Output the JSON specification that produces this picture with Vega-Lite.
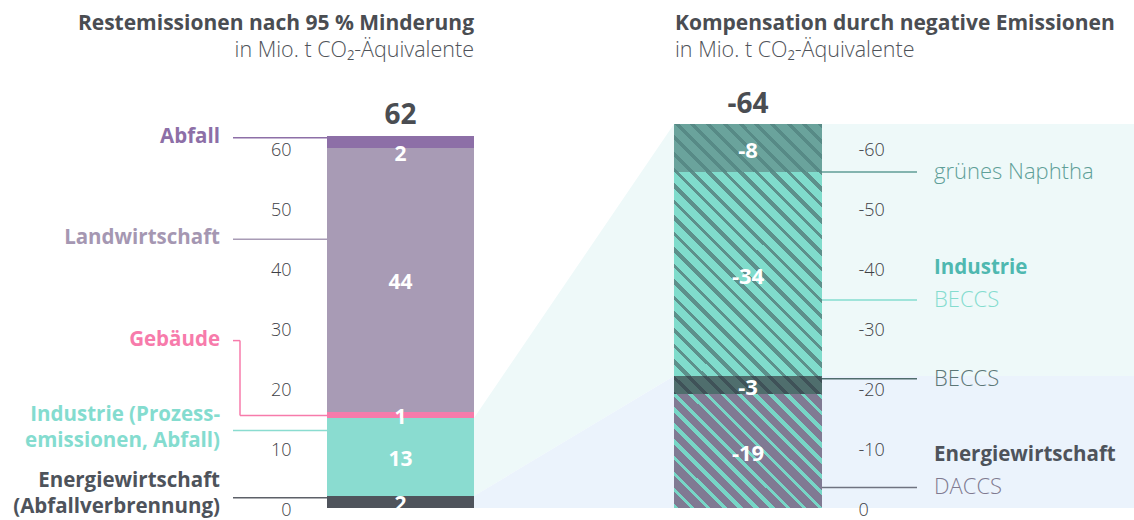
{
  "$schema": "https://vega.github.io/schema/vega-lite/v6.json",
  "width": 1134,
  "height": 520,
  "autosize": "none",
  "padding": 0,
  "background": "#ffffff",
  "config": {
    "view": {"stroke": null},
    "font": "Open Sans",
    "axisX": {"disable": true},
    "locale": {"number": {"decimal": ",", "thousands": ".", "grouping": [3], "currency": ["", " €"], "minus": "-"}}
  },
  "datasets": {
    "rest": [
      {"Sektor": "Energiewirtschaft", "rang": 1, "value": 2},
      {"Sektor": "Industrie", "rang": 2, "value": 13},
      {"Sektor": "Gebäude", "rang": 3, "value": 1},
      {"Sektor": "Landwirtschaft", "rang": 4, "value": 44},
      {"Sektor": "Abfall", "rang": 5, "value": 2}
    ],
    "komp": [
      {"Sektor": "Energiewirtschaft", "Technik": "DACCS", "rang": 1, "value": -19},
      {"Sektor": "Energiewirtschaft", "Technik": "BECCS", "rang": 2, "value": -3},
      {"Sektor": "Industrie", "Technik": "BECCS", "rang": 3, "value": -34},
      {"Sektor": "Industrie", "Technik": "grünes Naphtha", "rang": 4, "value": -8}
    ],
    "trichter": [
      {"Sektor": "Industrie", "x": 474, "unten": 2, "oben": 15},
      {"Sektor": "Industrie", "x": 674, "unten": 22, "oben": 64},
      {"Sektor": "Industrie", "x": 1134, "unten": 22, "oben": 64},
      {"Sektor": "Energiewirtschaft", "x": 474, "unten": 0, "oben": 2},
      {"Sektor": "Energiewirtschaft", "x": 674, "unten": 0, "oben": 22},
      {"Sektor": "Energiewirtschaft", "x": 1134, "unten": 0, "oben": 22}
    ]
  },
  "layer": [
    {
      "layer": [
        {
          "data": {"name": "trichter"},
          "transform": [{"filter": "datum.Sektor === 'Industrie'"}],
          "mark": {"type": "area", "color": "#eef9f9"},
          "encoding": {
            "x": {"field": "x", "type": "quantitative", "scale": {"domain": [0, 1134], "nice": false, "zero": false}},
            "y": {"field": "oben", "type": "quantitative", "scale": {"domain": [-2, 84.6667], "nice": false, "zero": false},
              "axis": {"orient": "left", "offset": -291, "values": [0, 10, 20, 30, 40, 50, 60], "ticks": false, "domain": false, "grid": false, "labelPadding": 0, "labelFontSize": 18, "labelFontWeight": 300, "labelColor": "#3d4045", "labelOffset": 2, "labelOverlap": false, "zindex": 1, "title": null}},
            "y2": {"field": "unten"}
          }
        },
        {
          "data": {"name": "trichter"},
          "transform": [{"filter": "datum.Sektor === 'Energiewirtschaft'"}],
          "mark": {"type": "area", "color": "#ebf3fc"},
          "encoding": {
            "x": {"field": "x", "type": "quantitative"},
            "y": {"field": "oben", "type": "quantitative"},
            "y2": {"field": "unten"}
          }
        },
        {
          "data": {"name": "rest"},
          "transform": [{"stack": "value", "groupby": [], "sort": [{"field": "rang"}], "as": ["v0", "v1"]}],
          "mark": {"type": "rect"},
          "encoding": {
            "x": {"datum": 327, "type": "quantitative"},
            "x2": {"datum": 474},
            "y": {"field": "v0", "type": "quantitative"},
            "y2": {"field": "v1"},
            "color": {"field": "Sektor", "type": "nominal", "legend": null,
              "scale": {"domain": ["Energiewirtschaft", "Industrie", "Gebäude", "Landwirtschaft", "Abfall"], "range": ["#4f545c", "#8adcd0", "#f77bab", "#a89bb5", "#8d6fa7"]}}
          }
        },
        {
          "data": {"name": "rest"},
          "transform": [
            {"stack": "value", "groupby": [], "sort": [{"field": "rang"}], "as": ["v0", "v1"]},
            {"filter": "datum.Sektor !== 'Abfall'"},
            {"fold": ["v0", "v1"], "as": ["grenze", "stelle"]},
            {"aggregate": [{"op": "mean", "field": "stelle", "as": "mitte"}, {"op": "max", "field": "value", "as": "wert"}], "groupby": ["Sektor"]}
          ],
          "mark": {"type": "text", "color": "#ffffff", "fontWeight": "bold", "fontSize": 21, "baseline": "middle", "dy": 3},
          "encoding": {
            "x": {"datum": 400.5, "type": "quantitative"},
            "y": {"field": "mitte", "type": "quantitative"},
            "text": {"field": "wert", "type": "quantitative", "format": "d"}
          }
        },
        {
          "data": {"name": "rest"},
          "transform": [
            {"stack": "value", "groupby": [], "sort": [{"field": "rang"}], "as": ["v0", "v1"]},
            {"filter": "datum.Sektor === 'Abfall'"}
          ],
          "mark": {"type": "text", "color": "#ffffff", "fontWeight": "bold", "fontSize": 21, "baseline": "middle", "dy": 7},
          "encoding": {
            "x": {"datum": 400.5, "type": "quantitative"},
            "y": {"field": "v0", "type": "quantitative"},
            "text": {"field": "value", "type": "quantitative", "format": "d"}
          }
        },
        {
          "data": {"name": "rest"},
          "transform": [{"aggregate": [{"op": "sum", "field": "value", "as": "summe"}]}],
          "mark": {"type": "text", "color": "#4a4d52", "fontWeight": "bold", "fontSize": 28, "baseline": "alphabetic", "dy": -12},
          "encoding": {
            "x": {"datum": 400.5, "type": "quantitative"},
            "y": {"field": "summe", "type": "quantitative"},
            "text": {"field": "summe", "type": "quantitative", "format": "d"}
          }
        },
        {
          "data": {"values": [{}]},
          "layer": [
            {"mark": {"type": "rule", "color": "#8d6fa7", "strokeWidth": 1.5}, "encoding": {"x": {"datum": 233, "type": "quantitative"}, "x2": {"datum": 327}, "y": {"datum": 61.7, "type": "quantitative"}}},
            {"mark": {"type": "rule", "color": "#a89bb5", "strokeWidth": 1.5}, "encoding": {"x": {"datum": 233, "type": "quantitative"}, "x2": {"datum": 327}, "y": {"datum": 44.8, "type": "quantitative"}}},
            {"mark": {"type": "rule", "color": "#f77bab", "strokeWidth": 1.5}, "encoding": {"x": {"datum": 233, "type": "quantitative"}, "x2": {"datum": 240}, "y": {"datum": 27.9, "type": "quantitative"}}},
            {"mark": {"type": "rule", "color": "#f77bab", "strokeWidth": 1.5}, "encoding": {"x": {"datum": 240, "type": "quantitative"}, "y": {"datum": 27.9, "type": "quantitative"}, "y2": {"datum": 15.4}}},
            {"mark": {"type": "rule", "color": "#f77bab", "strokeWidth": 1.5}, "encoding": {"x": {"datum": 240, "type": "quantitative"}, "x2": {"datum": 327}, "y": {"datum": 15.4, "type": "quantitative"}}},
            {"mark": {"type": "rule", "color": "#8adcd0", "strokeWidth": 1.5}, "encoding": {"x": {"datum": 233, "type": "quantitative"}, "x2": {"datum": 327}, "y": {"datum": 12.9, "type": "quantitative"}}},
            {"mark": {"type": "rule", "color": "#5d6068", "strokeWidth": 1.5}, "encoding": {"x": {"datum": 233, "type": "quantitative"}, "x2": {"datum": 327}, "y": {"datum": 1.7, "type": "quantitative"}}},
            {"mark": {"type": "text", "text": "Abfall", "align": "right", "baseline": "middle", "fontWeight": "bold", "fontSize": 20.5, "color": "#8d6fa7"}, "encoding": {"x": {"datum": 220, "type": "quantitative"}, "y": {"datum": 61.8, "type": "quantitative"}}},
            {"mark": {"type": "text", "text": "Landwirtschaft", "align": "right", "baseline": "middle", "fontWeight": "bold", "fontSize": 20.5, "color": "#a597b2"}, "encoding": {"x": {"datum": 220, "type": "quantitative"}, "y": {"datum": 45, "type": "quantitative"}}},
            {"mark": {"type": "text", "text": "Gebäude", "align": "right", "baseline": "middle", "fontWeight": "bold", "fontSize": 20.5, "color": "#f77bab"}, "encoding": {"x": {"datum": 220, "type": "quantitative"}, "y": {"datum": 28, "type": "quantitative"}}},
            {"mark": {"type": "text", "text": ["Industrie (Prozess-", "emissionen, Abfall)"], "lineHeight": 26, "align": "right", "baseline": "middle", "fontWeight": "bold", "fontSize": 20.5, "color": "#84dccf"}, "encoding": {"x": {"datum": 220, "type": "quantitative"}, "y": {"datum": 15.5, "type": "quantitative"}}},
            {"mark": {"type": "text", "text": ["Energiewirtschaft", "(Abfallverbrennung)"], "lineHeight": 26, "align": "right", "baseline": "middle", "fontWeight": "bold", "fontSize": 20.5, "color": "#4e535b"}, "encoding": {"x": {"datum": 220, "type": "quantitative"}, "y": {"datum": 4.5, "type": "quantitative"}}},
            {"mark": {"type": "text", "text": "Restemissionen nach 95 % Minderung", "align": "right", "baseline": "middle", "fontWeight": "bold", "fontSize": 21, "color": "#4a4d52"}, "encoding": {"x": {"datum": 474, "type": "quantitative"}, "y": {"datum": 80.7, "type": "quantitative"}}},
            {"mark": {"type": "text", "text": "in Mio. t CO₂-Äquivalente", "align": "right", "baseline": "middle", "fontSize": 21.5, "fontWeight": 300, "color": "#4f5359"}, "encoding": {"x": {"datum": 474, "type": "quantitative"}, "y": {"datum": 76.2, "type": "quantitative"}}},
            {"mark": {"type": "text", "text": "Kompensation durch negative Emissionen", "align": "left", "baseline": "middle", "fontWeight": "bold", "fontSize": 21, "color": "#4a4d52"}, "encoding": {"x": {"datum": 675, "type": "quantitative"}, "y": {"datum": 80.7, "type": "quantitative"}}},
            {"mark": {"type": "text", "text": "in Mio. t CO₂-Äquivalente", "align": "left", "baseline": "middle", "fontSize": 21.5, "fontWeight": 300, "color": "#4f5359"}, "encoding": {"x": {"datum": 675, "type": "quantitative"}, "y": {"datum": 76.2, "type": "quantitative"}}}
          ]
        }
      ]
    },
    {
      "data": {"name": "komp"},
      "transform": [{"stack": "value", "groupby": [], "sort": [{"field": "rang"}], "as": ["v0", "v1"]}],
      "layer": [
        {
          "transform": [{"filter": "datum.rang === 1"}],
          "mark": {"type": "rect", "fill": {"gradient": "linear", "x1": 0, "y1": 1, "x2": 1.11106, "y2": 0.14418, "stops": [
            {"offset": 0, "color": "#77d6c6"}, {"offset": 0.01908, "color": "#77d6c6"}, {"offset": 0.01908, "color": "#807a93"}, {"offset": 0.06107, "color": "#807a93"},
            {"offset": 0.06107, "color": "#77d6c6"}, {"offset": 0.08015, "color": "#77d6c6"}, {"offset": 0.08015, "color": "#807a93"}, {"offset": 0.12214, "color": "#807a93"},
            {"offset": 0.12214, "color": "#77d6c6"}, {"offset": 0.14122, "color": "#77d6c6"}, {"offset": 0.14122, "color": "#807a93"}, {"offset": 0.18321, "color": "#807a93"},
            {"offset": 0.18321, "color": "#77d6c6"}, {"offset": 0.20229, "color": "#77d6c6"}, {"offset": 0.20229, "color": "#807a93"}, {"offset": 0.24427, "color": "#807a93"},
            {"offset": 0.24427, "color": "#77d6c6"}, {"offset": 0.26336, "color": "#77d6c6"}, {"offset": 0.26336, "color": "#807a93"}, {"offset": 0.30534, "color": "#807a93"},
            {"offset": 0.30534, "color": "#77d6c6"}, {"offset": 0.32443, "color": "#77d6c6"}, {"offset": 0.32443, "color": "#807a93"}, {"offset": 0.36641, "color": "#807a93"},
            {"offset": 0.36641, "color": "#77d6c6"}, {"offset": 0.3855, "color": "#77d6c6"}, {"offset": 0.3855, "color": "#807a93"}, {"offset": 0.42748, "color": "#807a93"},
            {"offset": 0.42748, "color": "#77d6c6"}, {"offset": 0.44656, "color": "#77d6c6"}, {"offset": 0.44656, "color": "#807a93"}, {"offset": 0.48855, "color": "#807a93"},
            {"offset": 0.48855, "color": "#77d6c6"}, {"offset": 0.50763, "color": "#77d6c6"}, {"offset": 0.50763, "color": "#807a93"}, {"offset": 0.54962, "color": "#807a93"},
            {"offset": 0.54962, "color": "#77d6c6"}, {"offset": 0.5687, "color": "#77d6c6"}, {"offset": 0.5687, "color": "#807a93"}, {"offset": 0.61069, "color": "#807a93"},
            {"offset": 0.61069, "color": "#77d6c6"}, {"offset": 0.62977, "color": "#77d6c6"}, {"offset": 0.62977, "color": "#807a93"}, {"offset": 0.67176, "color": "#807a93"},
            {"offset": 0.67176, "color": "#77d6c6"}, {"offset": 0.69084, "color": "#77d6c6"}, {"offset": 0.69084, "color": "#807a93"}, {"offset": 0.73282, "color": "#807a93"},
            {"offset": 0.73282, "color": "#77d6c6"}, {"offset": 0.75191, "color": "#77d6c6"}, {"offset": 0.75191, "color": "#807a93"}, {"offset": 0.79389, "color": "#807a93"},
            {"offset": 0.79389, "color": "#77d6c6"}, {"offset": 0.81298, "color": "#77d6c6"}, {"offset": 0.81298, "color": "#807a93"}, {"offset": 0.85496, "color": "#807a93"},
            {"offset": 0.85496, "color": "#77d6c6"}, {"offset": 0.87405, "color": "#77d6c6"}, {"offset": 0.87405, "color": "#807a93"}, {"offset": 0.91603, "color": "#807a93"},
            {"offset": 0.91603, "color": "#77d6c6"}, {"offset": 0.93511, "color": "#77d6c6"}, {"offset": 0.93511, "color": "#807a93"}, {"offset": 0.9771, "color": "#807a93"},
            {"offset": 0.9771, "color": "#77d6c6"}, {"offset": 0.99618, "color": "#77d6c6"}, {"offset": 0.99618, "color": "#807a93"}, {"offset": 1, "color": "#807a93"}
          ]}},
          "encoding": {
            "x": {"datum": 674, "type": "quantitative"},
            "x2": {"datum": 822},
            "y": {"field": "v0", "type": "quantitative", "scale": {"domain": [2, -84.6667], "nice": false, "zero": false},
              "axis": {"orient": "right", "offset": -276, "values": [0, -10, -20, -30, -40, -50, -60], "ticks": false, "domain": false, "grid": false, "labelPadding": 0, "labelAlign": "left", "labelFontSize": 18, "labelFontWeight": 300, "labelColor": "#3d4045", "labelOffset": 2, "labelOverlap": false, "zindex": 1, "title": null}},
            "y2": {"field": "v1"}
          }
        },
        {
          "transform": [{"filter": "datum.rang === 2"}],
          "mark": {"type": "rect", "fill": {"gradient": "linear", "x1": 0, "y1": 1, "x2": 1.10528, "y2": 0.86557, "stops": [
            {"offset": 0, "color": "#3f5258"}, {"offset": 0.01807, "color": "#3f5258"}, {"offset": 0.01807, "color": "#4f6e6d"}, {"offset": 0.08434, "color": "#4f6e6d"},
            {"offset": 0.08434, "color": "#3f5258"}, {"offset": 0.11446, "color": "#3f5258"}, {"offset": 0.11446, "color": "#4f6e6d"}, {"offset": 0.18072, "color": "#4f6e6d"},
            {"offset": 0.18072, "color": "#3f5258"}, {"offset": 0.21084, "color": "#3f5258"}, {"offset": 0.21084, "color": "#4f6e6d"}, {"offset": 0.27711, "color": "#4f6e6d"},
            {"offset": 0.27711, "color": "#3f5258"}, {"offset": 0.30723, "color": "#3f5258"}, {"offset": 0.30723, "color": "#4f6e6d"}, {"offset": 0.37349, "color": "#4f6e6d"},
            {"offset": 0.37349, "color": "#3f5258"}, {"offset": 0.40361, "color": "#3f5258"}, {"offset": 0.40361, "color": "#4f6e6d"}, {"offset": 0.46988, "color": "#4f6e6d"},
            {"offset": 0.46988, "color": "#3f5258"}, {"offset": 0.5, "color": "#3f5258"}, {"offset": 0.5, "color": "#4f6e6d"}, {"offset": 0.56627, "color": "#4f6e6d"},
            {"offset": 0.56627, "color": "#3f5258"}, {"offset": 0.59639, "color": "#3f5258"}, {"offset": 0.59639, "color": "#4f6e6d"}, {"offset": 0.66265, "color": "#4f6e6d"},
            {"offset": 0.66265, "color": "#3f5258"}, {"offset": 0.69277, "color": "#3f5258"}, {"offset": 0.69277, "color": "#4f6e6d"}, {"offset": 0.75904, "color": "#4f6e6d"},
            {"offset": 0.75904, "color": "#3f5258"}, {"offset": 0.78916, "color": "#3f5258"}, {"offset": 0.78916, "color": "#4f6e6d"}, {"offset": 0.85542, "color": "#4f6e6d"},
            {"offset": 0.85542, "color": "#3f5258"}, {"offset": 0.88554, "color": "#3f5258"}, {"offset": 0.88554, "color": "#4f6e6d"}, {"offset": 0.95181, "color": "#4f6e6d"},
            {"offset": 0.95181, "color": "#3f5258"}, {"offset": 0.98193, "color": "#3f5258"}, {"offset": 0.98193, "color": "#4f6e6d"}, {"offset": 1, "color": "#4f6e6d"}
          ]}},
          "encoding": {
            "x": {"datum": 674, "type": "quantitative"},
            "x2": {"datum": 822},
            "y": {"field": "v0", "type": "quantitative"},
            "y2": {"field": "v1"}
          }
        },
        {
          "transform": [{"filter": "datum.rang === 3"}],
          "mark": {"type": "rect", "fill": {"gradient": "linear", "x1": 0, "y1": 1, "x2": 0.82015, "y2": -0.13048, "stops": [
            {"offset": 0, "color": "#5d908b"}, {"offset": 0.00284, "color": "#5d908b"}, {"offset": 0.00284, "color": "#80dccc"}, {"offset": 0.03409, "color": "#80dccc"},
            {"offset": 0.03409, "color": "#5d908b"}, {"offset": 0.0483, "color": "#5d908b"}, {"offset": 0.0483, "color": "#80dccc"}, {"offset": 0.07955, "color": "#80dccc"},
            {"offset": 0.07955, "color": "#5d908b"}, {"offset": 0.09375, "color": "#5d908b"}, {"offset": 0.09375, "color": "#80dccc"}, {"offset": 0.125, "color": "#80dccc"},
            {"offset": 0.125, "color": "#5d908b"}, {"offset": 0.1392, "color": "#5d908b"}, {"offset": 0.1392, "color": "#80dccc"}, {"offset": 0.17045, "color": "#80dccc"},
            {"offset": 0.17045, "color": "#5d908b"}, {"offset": 0.18466, "color": "#5d908b"}, {"offset": 0.18466, "color": "#80dccc"}, {"offset": 0.21591, "color": "#80dccc"},
            {"offset": 0.21591, "color": "#5d908b"}, {"offset": 0.23011, "color": "#5d908b"}, {"offset": 0.23011, "color": "#80dccc"}, {"offset": 0.26136, "color": "#80dccc"},
            {"offset": 0.26136, "color": "#5d908b"}, {"offset": 0.27557, "color": "#5d908b"}, {"offset": 0.27557, "color": "#80dccc"}, {"offset": 0.30682, "color": "#80dccc"},
            {"offset": 0.30682, "color": "#5d908b"}, {"offset": 0.32102, "color": "#5d908b"}, {"offset": 0.32102, "color": "#80dccc"}, {"offset": 0.35227, "color": "#80dccc"},
            {"offset": 0.35227, "color": "#5d908b"}, {"offset": 0.36648, "color": "#5d908b"}, {"offset": 0.36648, "color": "#80dccc"}, {"offset": 0.39773, "color": "#80dccc"},
            {"offset": 0.39773, "color": "#5d908b"}, {"offset": 0.41193, "color": "#5d908b"}, {"offset": 0.41193, "color": "#80dccc"}, {"offset": 0.44318, "color": "#80dccc"},
            {"offset": 0.44318, "color": "#5d908b"}, {"offset": 0.45739, "color": "#5d908b"}, {"offset": 0.45739, "color": "#80dccc"}, {"offset": 0.48864, "color": "#80dccc"},
            {"offset": 0.48864, "color": "#5d908b"}, {"offset": 0.50284, "color": "#5d908b"}, {"offset": 0.50284, "color": "#80dccc"}, {"offset": 0.53409, "color": "#80dccc"},
            {"offset": 0.53409, "color": "#5d908b"}, {"offset": 0.5483, "color": "#5d908b"}, {"offset": 0.5483, "color": "#80dccc"}, {"offset": 0.57955, "color": "#80dccc"},
            {"offset": 0.57955, "color": "#5d908b"}, {"offset": 0.59375, "color": "#5d908b"}, {"offset": 0.59375, "color": "#80dccc"}, {"offset": 0.625, "color": "#80dccc"},
            {"offset": 0.625, "color": "#5d908b"}, {"offset": 0.6392, "color": "#5d908b"}, {"offset": 0.6392, "color": "#80dccc"}, {"offset": 0.67045, "color": "#80dccc"},
            {"offset": 0.67045, "color": "#5d908b"}, {"offset": 0.68466, "color": "#5d908b"}, {"offset": 0.68466, "color": "#80dccc"}, {"offset": 0.71591, "color": "#80dccc"},
            {"offset": 0.71591, "color": "#5d908b"}, {"offset": 0.73011, "color": "#5d908b"}, {"offset": 0.73011, "color": "#80dccc"}, {"offset": 0.76136, "color": "#80dccc"},
            {"offset": 0.76136, "color": "#5d908b"}, {"offset": 0.77557, "color": "#5d908b"}, {"offset": 0.77557, "color": "#80dccc"}, {"offset": 0.80682, "color": "#80dccc"},
            {"offset": 0.80682, "color": "#5d908b"}, {"offset": 0.82102, "color": "#5d908b"}, {"offset": 0.82102, "color": "#80dccc"}, {"offset": 0.85227, "color": "#80dccc"},
            {"offset": 0.85227, "color": "#5d908b"}, {"offset": 0.86648, "color": "#5d908b"}, {"offset": 0.86648, "color": "#80dccc"}, {"offset": 0.89773, "color": "#80dccc"},
            {"offset": 0.89773, "color": "#5d908b"}, {"offset": 0.91193, "color": "#5d908b"}, {"offset": 0.91193, "color": "#80dccc"}, {"offset": 0.94318, "color": "#80dccc"},
            {"offset": 0.94318, "color": "#5d908b"}, {"offset": 0.95739, "color": "#5d908b"}, {"offset": 0.95739, "color": "#80dccc"}, {"offset": 0.98864, "color": "#80dccc"},
            {"offset": 0.98864, "color": "#5d908b"}, {"offset": 1, "color": "#5d908b"}
          ]}},
          "encoding": {
            "x": {"datum": 674, "type": "quantitative"},
            "x2": {"datum": 822},
            "y": {"field": "v0", "type": "quantitative"},
            "y2": {"field": "v1"}
          }
        },
        {
          "transform": [{"filter": "datum.rang === 4"}],
          "mark": {"type": "rect", "fill": {"gradient": "linear", "x1": 0, "y1": 1, "x2": 1.19828, "y2": 0.61137, "stops": [
            {"offset": 0, "color": "#578a86"}, {"offset": 0.02551, "color": "#578a86"}, {"offset": 0.02551, "color": "#6aa39c"}, {"offset": 0.08163, "color": "#6aa39c"},
            {"offset": 0.08163, "color": "#578a86"}, {"offset": 0.10714, "color": "#578a86"}, {"offset": 0.10714, "color": "#6aa39c"}, {"offset": 0.16327, "color": "#6aa39c"},
            {"offset": 0.16327, "color": "#578a86"}, {"offset": 0.18878, "color": "#578a86"}, {"offset": 0.18878, "color": "#6aa39c"}, {"offset": 0.2449, "color": "#6aa39c"},
            {"offset": 0.2449, "color": "#578a86"}, {"offset": 0.27041, "color": "#578a86"}, {"offset": 0.27041, "color": "#6aa39c"}, {"offset": 0.32653, "color": "#6aa39c"},
            {"offset": 0.32653, "color": "#578a86"}, {"offset": 0.35204, "color": "#578a86"}, {"offset": 0.35204, "color": "#6aa39c"}, {"offset": 0.40816, "color": "#6aa39c"},
            {"offset": 0.40816, "color": "#578a86"}, {"offset": 0.43367, "color": "#578a86"}, {"offset": 0.43367, "color": "#6aa39c"}, {"offset": 0.4898, "color": "#6aa39c"},
            {"offset": 0.4898, "color": "#578a86"}, {"offset": 0.51531, "color": "#578a86"}, {"offset": 0.51531, "color": "#6aa39c"}, {"offset": 0.57143, "color": "#6aa39c"},
            {"offset": 0.57143, "color": "#578a86"}, {"offset": 0.59694, "color": "#578a86"}, {"offset": 0.59694, "color": "#6aa39c"}, {"offset": 0.65306, "color": "#6aa39c"},
            {"offset": 0.65306, "color": "#578a86"}, {"offset": 0.67857, "color": "#578a86"}, {"offset": 0.67857, "color": "#6aa39c"}, {"offset": 0.73469, "color": "#6aa39c"},
            {"offset": 0.73469, "color": "#578a86"}, {"offset": 0.7602, "color": "#578a86"}, {"offset": 0.7602, "color": "#6aa39c"}, {"offset": 0.81633, "color": "#6aa39c"},
            {"offset": 0.81633, "color": "#578a86"}, {"offset": 0.84184, "color": "#578a86"}, {"offset": 0.84184, "color": "#6aa39c"}, {"offset": 0.89796, "color": "#6aa39c"},
            {"offset": 0.89796, "color": "#578a86"}, {"offset": 0.92347, "color": "#578a86"}, {"offset": 0.92347, "color": "#6aa39c"}, {"offset": 0.97959, "color": "#6aa39c"},
            {"offset": 0.97959, "color": "#578a86"}, {"offset": 1, "color": "#578a86"}
          ]}},
          "encoding": {
            "x": {"datum": 674, "type": "quantitative"},
            "x2": {"datum": 822},
            "y": {"field": "v0", "type": "quantitative"},
            "y2": {"field": "v1"}
          }
        },
        {
          "transform": [
            {"fold": ["v0", "v1"], "as": ["grenze", "stelle"]},
            {"aggregate": [{"op": "mean", "field": "stelle", "as": "mitte"}, {"op": "min", "field": "value", "as": "wert"}], "groupby": ["rang"]}
          ],
          "mark": {"type": "text", "color": "#ffffff", "fontWeight": "bold", "fontSize": 22, "baseline": "middle", "dy": 3},
          "encoding": {
            "x": {"datum": 748, "type": "quantitative"},
            "y": {"field": "mitte", "type": "quantitative"},
            "text": {"field": "wert", "type": "quantitative", "format": "d"}
          }
        },
        {
          "transform": [{"aggregate": [{"op": "sum", "field": "value", "as": "summe"}]}],
          "mark": {"type": "text", "color": "#4a4d52", "fontWeight": "bold", "fontSize": 28, "baseline": "alphabetic", "dy": -11},
          "encoding": {
            "x": {"datum": 748, "type": "quantitative"},
            "y": {"field": "summe", "type": "quantitative"},
            "text": {"field": "summe", "type": "quantitative", "format": "d"}
          }
        },
        {
          "data": {"values": [{}]},
          "layer": [
            {"mark": {"type": "rule", "color": "#5f9c96", "strokeWidth": 1.5}, "encoding": {"x": {"datum": 822, "type": "quantitative"}, "x2": {"datum": 917}, "y": {"datum": -56, "type": "quantitative"}}},
            {"mark": {"type": "rule", "color": "#84dccf", "strokeWidth": 1.5}, "encoding": {"x": {"datum": 822, "type": "quantitative"}, "x2": {"datum": 917}, "y": {"datum": -34.67, "type": "quantitative"}}},
            {"mark": {"type": "rule", "color": "#4f6d6c", "strokeWidth": 1.5}, "encoding": {"x": {"datum": 822, "type": "quantitative"}, "x2": {"datum": 917}, "y": {"datum": -21.55, "type": "quantitative"}}},
            {"mark": {"type": "rule", "color": "#6f7380", "strokeWidth": 1.5}, "encoding": {"x": {"datum": 822, "type": "quantitative"}, "x2": {"datum": 917}, "y": {"datum": -3.4, "type": "quantitative"}}},
            {"mark": {"type": "text", "text": "grünes Naphtha", "align": "left", "baseline": "middle", "fontWeight": 300, "fontSize": 22, "color": "#5f9f98"}, "encoding": {"x": {"datum": 934, "type": "quantitative"}, "y": {"datum": -56, "type": "quantitative"}}},
            {"mark": {"type": "text", "text": "Industrie", "align": "left", "baseline": "middle", "fontWeight": "bold", "fontSize": 20.5, "color": "#4fb8b0"}, "encoding": {"x": {"datum": 934, "type": "quantitative"}, "y": {"datum": -40, "type": "quantitative"}}},
            {"mark": {"type": "text", "text": "BECCS", "align": "left", "baseline": "middle", "fontWeight": 300, "fontSize": 22, "color": "#84dccf"}, "encoding": {"x": {"datum": 934, "type": "quantitative"}, "y": {"datum": -34.67, "type": "quantitative"}}},
            {"mark": {"type": "text", "text": "BECCS", "align": "left", "baseline": "middle", "fontWeight": 300, "fontSize": 22, "color": "#5b7676"}, "encoding": {"x": {"datum": 934, "type": "quantitative"}, "y": {"datum": -21.5, "type": "quantitative"}}},
            {"mark": {"type": "text", "text": "Energiewirtschaft", "align": "left", "baseline": "middle", "fontWeight": "bold", "fontSize": 20.5, "color": "#4e535b"}, "encoding": {"x": {"datum": 934, "type": "quantitative"}, "y": {"datum": -8.83, "type": "quantitative"}}},
            {"mark": {"type": "text", "text": "DACCS", "align": "left", "baseline": "middle", "fontWeight": 300, "fontSize": 22, "color": "#7f7a90"}, "encoding": {"x": {"datum": 934, "type": "quantitative"}, "y": {"datum": -3.5, "type": "quantitative"}}}
          ]
        }
      ]
    }
  ],
  "resolve": {"scale": {"y": "independent"}}
}
